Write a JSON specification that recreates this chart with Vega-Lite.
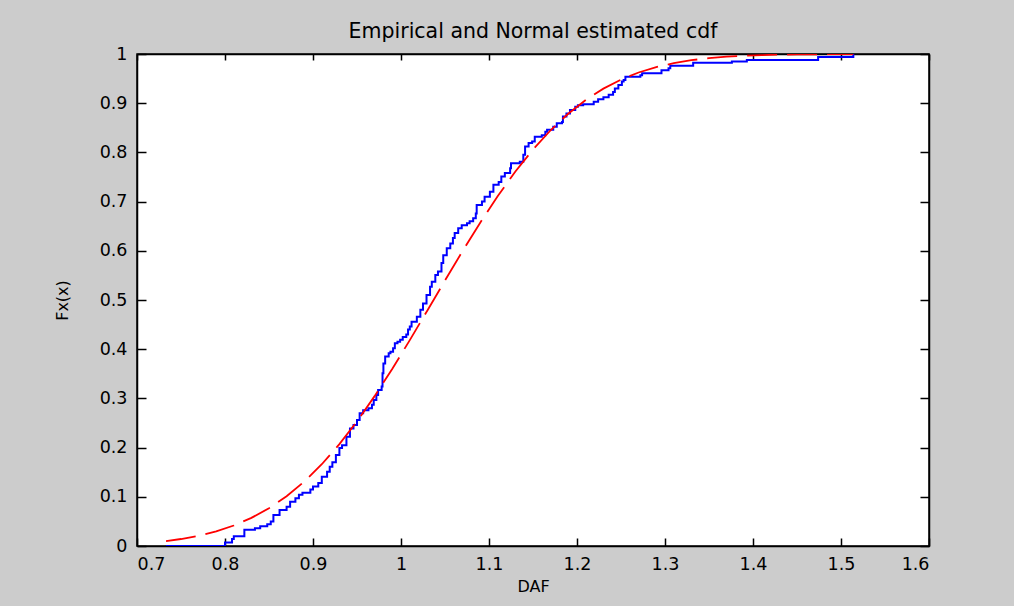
{
  "$schema": "https://vega.github.io/schema/vega-lite/v6.json",
  "autosize": "none",
  "width": 792,
  "height": 492,
  "padding": {"left": 137, "top": 54, "right": 85, "bottom": 60},
  "background": "#cccccc",
  "title": {"text": "Empirical and Normal estimated cdf", "font": "DejaVu Sans", "fontSize": 20.5, "fontWeight": "normal", "color": "#000000", "offset": 3},
  "config": {
    "view": {"fill": "#ffffff", "stroke": "#000000", "strokeWidth": 1.5},
    "axis": {"domainColor": "#000000", "tickColor": "#000000", "labelColor": "#000000", "titleColor": "#000000", "labelFont": "DejaVu Sans", "labelFontSize": 17.5, "titleFont": "DejaVu Sans", "titleFontSize": 16, "titleFontWeight": "normal", "grid": false, "tickWidth": 1.5, "domainWidth": 1.5}
  },
  "datasets": {
    "emp": [
      {"x": 0.733, "F": 0}, {"x": 0.800, "F": 0.007}, {"x": 0.808, "F": 0.014}, {"x": 0.810, "F": 0.020},
      {"x": 0.822, "F": 0.033}, {"x": 0.834, "F": 0.036}, {"x": 0.840, "F": 0.040}, {"x": 0.848, "F": 0.044},
      {"x": 0.852, "F": 0.050}, {"x": 0.855, "F": 0.063}, {"x": 0.862, "F": 0.073}, {"x": 0.870, "F": 0.080},
      {"x": 0.874, "F": 0.090}, {"x": 0.880, "F": 0.097}, {"x": 0.884, "F": 0.104}, {"x": 0.888, "F": 0.108},
      {"x": 0.897, "F": 0.115}, {"x": 0.900, "F": 0.121}, {"x": 0.906, "F": 0.128}, {"x": 0.910, "F": 0.141},
      {"x": 0.916, "F": 0.151}, {"x": 0.919, "F": 0.161}, {"x": 0.922, "F": 0.170}, {"x": 0.926, "F": 0.185},
      {"x": 0.930, "F": 0.199}, {"x": 0.933, "F": 0.205}, {"x": 0.938, "F": 0.222}, {"x": 0.942, "F": 0.239},
      {"x": 0.946, "F": 0.246}, {"x": 0.950, "F": 0.256}, {"x": 0.953, "F": 0.270}, {"x": 0.957, "F": 0.276},
      {"x": 0.963, "F": 0.280}, {"x": 0.967, "F": 0.287}, {"x": 0.969, "F": 0.297}, {"x": 0.972, "F": 0.307},
      {"x": 0.974, "F": 0.317}, {"x": 0.978, "F": 0.324}, {"x": 0.979, "F": 0.351}, {"x": 0.980, "F": 0.371},
      {"x": 0.982, "F": 0.385}, {"x": 0.986, "F": 0.392}, {"x": 0.988, "F": 0.395}, {"x": 0.991, "F": 0.402},
      {"x": 0.993, "F": 0.412}, {"x": 0.996, "F": 0.415}, {"x": 0.999, "F": 0.419}, {"x": 1.002, "F": 0.425},
      {"x": 1.006, "F": 0.430}, {"x": 1.008, "F": 0.440}, {"x": 1.010, "F": 0.446}, {"x": 1.012, "F": 0.456},
      {"x": 1.018, "F": 0.466}, {"x": 1.022, "F": 0.480}, {"x": 1.025, "F": 0.493}, {"x": 1.029, "F": 0.510},
      {"x": 1.033, "F": 0.527}, {"x": 1.035, "F": 0.537}, {"x": 1.039, "F": 0.551}, {"x": 1.042, "F": 0.558},
      {"x": 1.046, "F": 0.575}, {"x": 1.048, "F": 0.591}, {"x": 1.052, "F": 0.605}, {"x": 1.056, "F": 0.615},
      {"x": 1.059, "F": 0.626}, {"x": 1.061, "F": 0.636}, {"x": 1.065, "F": 0.646}, {"x": 1.069, "F": 0.652},
      {"x": 1.075, "F": 0.656}, {"x": 1.078, "F": 0.660}, {"x": 1.082, "F": 0.666}, {"x": 1.085, "F": 0.676},
      {"x": 1.086, "F": 0.693}, {"x": 1.092, "F": 0.700}, {"x": 1.095, "F": 0.710}, {"x": 1.101, "F": 0.720},
      {"x": 1.105, "F": 0.734}, {"x": 1.111, "F": 0.740}, {"x": 1.114, "F": 0.751}, {"x": 1.118, "F": 0.758},
      {"x": 1.124, "F": 0.768}, {"x": 1.125, "F": 0.778}, {"x": 1.135, "F": 0.781}, {"x": 1.139, "F": 0.795},
      {"x": 1.141, "F": 0.812}, {"x": 1.145, "F": 0.819}, {"x": 1.149, "F": 0.822}, {"x": 1.152, "F": 0.832},
      {"x": 1.160, "F": 0.835}, {"x": 1.164, "F": 0.842}, {"x": 1.166, "F": 0.846}, {"x": 1.173, "F": 0.852},
      {"x": 1.177, "F": 0.859}, {"x": 1.183, "F": 0.862}, {"x": 1.184, "F": 0.873}, {"x": 1.188, "F": 0.879},
      {"x": 1.192, "F": 0.886}, {"x": 1.198, "F": 0.893}, {"x": 1.201, "F": 0.896}, {"x": 1.207, "F": 0.898},
      {"x": 1.219, "F": 0.903}, {"x": 1.224, "F": 0.908}, {"x": 1.230, "F": 0.912}, {"x": 1.236, "F": 0.917},
      {"x": 1.241, "F": 0.923}, {"x": 1.243, "F": 0.930}, {"x": 1.247, "F": 0.937}, {"x": 1.251, "F": 0.944},
      {"x": 1.253, "F": 0.947}, {"x": 1.255, "F": 0.954}, {"x": 1.272, "F": 0.957}, {"x": 1.274, "F": 0.961},
      {"x": 1.296, "F": 0.967}, {"x": 1.304, "F": 0.971}, {"x": 1.306, "F": 0.976}, {"x": 1.332, "F": 0.982},
      {"x": 1.376, "F": 0.985}, {"x": 1.393, "F": 0.988}, {"x": 1.474, "F": 0.994}, {"x": 1.514, "F": 1.0}
    ],
    "norm": [
      {"x": 0.733, "F": 0.0101}, {"x": 0.75, "F": 0.0142}, {"x": 0.77, "F": 0.0208}, {"x": 0.79, "F": 0.0297},
      {"x": 0.81, "F": 0.0416}, {"x": 0.83, "F": 0.0571}, {"x": 0.85, "F": 0.0768}, {"x": 0.87, "F": 0.1012},
      {"x": 0.89, "F": 0.1309}, {"x": 0.91, "F": 0.1662}, {"x": 0.93, "F": 0.2070}, {"x": 0.95, "F": 0.2533},
      {"x": 0.97, "F": 0.3046}, {"x": 0.99, "F": 0.3598}, {"x": 1.01, "F": 0.4184}, {"x": 1.03, "F": 0.4788},
      {"x": 1.05, "F": 0.5396}, {"x": 1.07, "F": 0.5995}, {"x": 1.09, "F": 0.6571}, {"x": 1.11, "F": 0.7112},
      {"x": 1.13, "F": 0.7612}, {"x": 1.15, "F": 0.8058}, {"x": 1.17, "F": 0.8450}, {"x": 1.19, "F": 0.8786},
      {"x": 1.21, "F": 0.9067}, {"x": 1.23, "F": 0.9296}, {"x": 1.25, "F": 0.9480}, {"x": 1.27, "F": 0.9624},
      {"x": 1.29, "F": 0.9733}, {"x": 1.31, "F": 0.9814}, {"x": 1.33, "F": 0.9874}, {"x": 1.35, "F": 0.9916},
      {"x": 1.37, "F": 0.9945}, {"x": 1.39, "F": 0.9965}, {"x": 1.41, "F": 0.9978}, {"x": 1.43, "F": 0.9987},
      {"x": 1.45, "F": 0.9992}, {"x": 1.47, "F": 0.9995}, {"x": 1.49, "F": 0.9997}, {"x": 1.514, "F": 0.9999}
    ]
  },
  "layer": [
    {
      "data": {"name": "emp"},
      "mark": {"type": "line", "interpolate": "step-after", "color": "#0000ff", "strokeWidth": 2, "clip": true},
      "encoding": {
        "x": {"field": "x", "type": "quantitative", "scale": {"domain": [0.7, 1.6], "nice": false, "zero": false},
              "axis": {"orient": "bottom", "title": "DAF", "values": [0.7, 0.8, 0.9, 1, 1.1, 1.2, 1.3, 1.4, 1.5, 1.6], "format": "~g", "tickSize": -8, "labelPadding": 17, "titlePadding": 6}},
        "y": {"field": "F", "type": "quantitative", "scale": {"domain": [0, 1], "nice": false, "zero": false},
              "axis": {"orient": "left", "title": "Fx(x)", "values": [0, 0.1, 0.2, 0.3, 0.4, 0.5, 0.6, 0.7, 0.8, 0.9, 1], "format": "~g", "tickSize": -9, "labelPadding": 19, "titlePadding": 29}}
      }
    },
    {
      "data": {"name": "norm"},
      "mark": {"type": "line", "color": "#ff0000", "strokeWidth": 1.8, "strokeDash": [30, 10], "clip": true},
      "encoding": {
        "x": {"field": "x", "type": "quantitative", "scale": {"domain": [0.7, 1.6], "nice": false, "zero": false},
              "axis": {"orient": "top", "title": null, "labels": false, "values": [0.7, 0.8, 0.9, 1, 1.1, 1.2, 1.3, 1.4, 1.5, 1.6], "tickSize": -6}},
        "y": {"field": "F", "type": "quantitative", "scale": {"domain": [0, 1], "nice": false, "zero": false},
              "axis": {"orient": "right", "title": null, "labels": false, "values": [0, 0.1, 0.2, 0.3, 0.4, 0.5, 0.6, 0.7, 0.8, 0.9, 1], "tickSize": -9}}
      }
    }
  ],
  "resolve": {"axis": {"x": "independent", "y": "independent"}}
}
